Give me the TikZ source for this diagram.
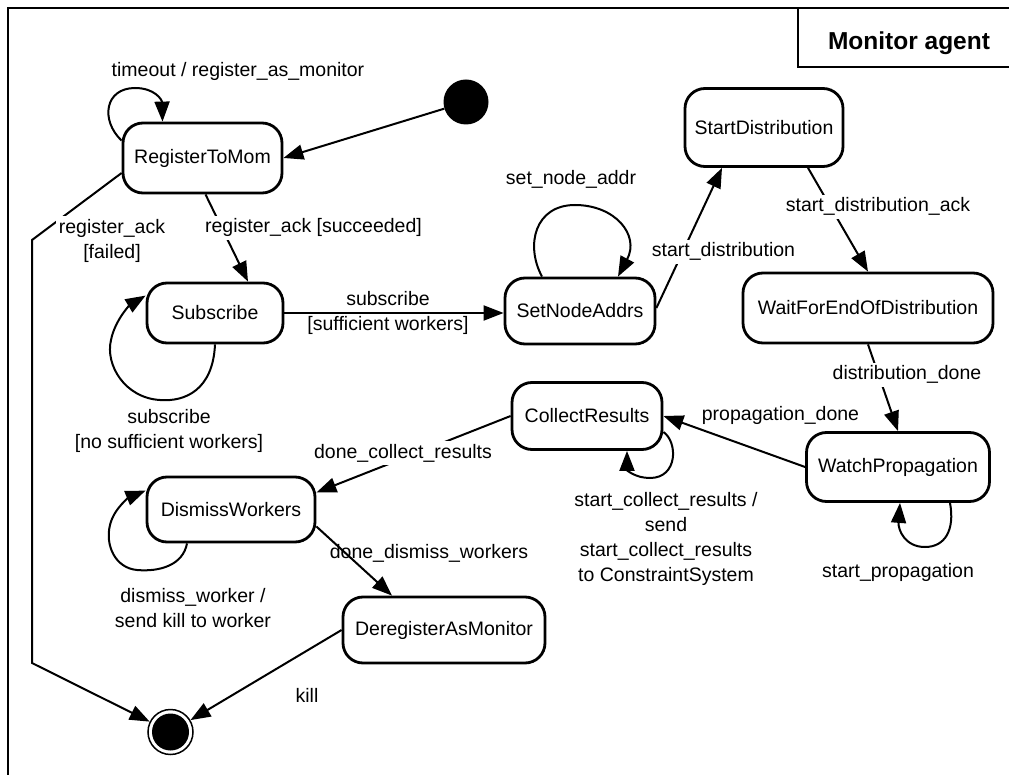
\documentclass[tikz,border=0pt]{standalone}
\usepackage{fontspec}
\setmainfont{Liberation Sans}
\usetikzlibrary{arrows.meta,calc}
\begin{document}
\begin{tikzpicture}[x=1pt,y=-1pt,
  every node/.style={font=\fontsize{19.5}{25}\selectfont},
  stbox/.style={draw, line width=2.8pt, rounded corners=20pt, inner sep=0pt, align=center},
  trans/.style={line width=2pt, -{Triangle[length=20pt,width=15pt]}},
  lbl/.style={inner sep=0pt, align=center},
  gap/.style={fill=white, inner sep=3pt},
]
\useasboundingbox (0,0) rectangle (1009,775);

% frame and title tab
\draw[line width=2.5pt] (1009,8) -- (8,8) -- (8,775);
\draw[line width=2pt] (798,8) -- (798,67) -- (1009,67);
\node[anchor=base, font=\bfseries\fontsize{24.5}{28}\selectfont] (title) at (909,50) {Monitor agent};

% states
\node[stbox, minimum width=159pt, minimum height=70pt] (reg) at (202.5,158) {RegisterToMom};
\node[circle, fill, minimum size=45pt, inner sep=0pt] (init) at (466,102) {};
\node[stbox, minimum width=136pt, minimum height=60pt] (sub) at (215,313) {Subscribe};
\node[stbox, minimum width=150pt, minimum height=66pt] (setn) at (580,311) {SetNodeAddrs};
\node[stbox, minimum width=158pt, minimum height=78pt] (sdist) at (764,127.5) {StartDistribution};
\node[stbox, minimum width=250pt, minimum height=70pt] (wait) at (868,308) {WaitForEndOfDistribution};
\node[stbox, minimum width=150pt, minimum height=67pt] (coll) at (587,416) {CollectResults};
\node[stbox, minimum width=183pt, minimum height=69pt] (watch) at (898,467) {WatchPropagation};
\node[stbox, minimum width=168pt, minimum height=65pt] (dism) at (231,509.5) {DismissWorkers};
\node[stbox, minimum width=202pt, minimum height=66pt] (dereg) at (444,630) {DeregisterAsMonitor};
\node[circle, draw, line width=1.5pt, minimum size=45pt, inner sep=0pt,
      path picture={\fill (path picture bounding box.center) circle (18.5pt);}] (final) at (170.5,732) {};

% bend points of the failure path
\coordinate (bendA) at (32,240);
\coordinate (bendB) at (32,663);

% transitions
\draw[trans] (init) -- (reg.east);
\draw[trans] ([yshift=-19pt]reg.north west) .. controls (100,120) and (105,88) .. (135,88)
   .. controls (155,88) and (162,100) .. ([xshift=-40pt]reg.north);
\draw[trans] ([xshift=3pt]reg.south) -- ([xshift=33pt]sub.north);
\draw[trans] ([yshift=-15pt]reg.west) -- (bendA) -- (bendB) -- (final);
\draw[trans] (sub.south) .. controls (213,390) and (185,402) .. (160,400)
   .. controls (125,398) and (105,365) .. (111,340)
   .. controls (115,320) and (130,305) .. ([yshift=-14pt]sub.north west);
\draw[trans] (sub.east) -- (sub.east -| setn.west);
\draw[trans] ([xshift=-38pt]setn.north) .. controls (525,245) and (535,205) .. (575,205)
   .. controls (615,205) and (640,235) .. ([xshift=38pt]setn.north);
\draw[trans] ([yshift=3pt]setn.east) -- ([xshift=-42pt]sdist.south);
\draw[trans] ([xshift=44pt]sdist.south) -- (wait.north);
\draw[trans] (wait.south) -- (watch.north);
\draw[trans] (watch.west) -- (coll.east);
\draw[trans] ([yshift=-16pt]coll.east) .. controls (678,442) and (678,478) .. (650,478)
   .. controls (635,478) and (627,470) .. ([xshift=40pt]coll.south);
\draw[trans] (coll.west) -- ([yshift=17pt]dism.east);
\draw[trans] ([xshift=-44pt]dism.south) .. controls (183,565) and (160,572) .. (137,570)
   .. controls (115,568) and (105,545) .. (110,525)
   .. controls (114,508) and (130,497) .. ([yshift=-15pt]dism.north west);
\draw[trans] ([yshift=-17pt]dism.east) -- ([xshift=-52pt]dereg.north);
\draw[trans] (dereg.west) -- (final);
\draw[trans] ([xshift=52pt]watch.south) .. controls (955,530) and (945,547) .. (925,547)
   .. controls (905,547) and (898,530) .. ([xshift=2pt]watch.south);

% transition labels
\node[lbl, anchor=base] (l1) at (238,77) {timeout / register\_as\_monitor};
\node[lbl, gap, anchor=north] (l2) at (112,215.7) {register\_ack\\{[failed]}};
\node[lbl, gap, anchor=base] (l3) at (313.5,233) {register\_ack [succeeded]};
\node[lbl, anchor=base] (l4) at (571,185) {set\_node\_addr};
\node[lbl, gap, anchor=base] (l5) at (723.5,257) {start\_distribution};
\node[lbl, gap, anchor=base] (l6) at (878,212) {start\_distribution\_ack};
\node[lbl, anchor=north] (l7) at (388,290.7) {subscribe\\{[sufficient workers]}};
\node[lbl, anchor=north] (l8) at (169,408.7) {subscribe\\{[no sufficient workers]}};
\node[lbl, gap, anchor=base] (l9) at (907,380) {distribution\_done};
\node[lbl, anchor=base] (l10) at (780.5,420) {propagation\_done};
\node[lbl, gap, anchor=base] (l11) at (403,458) {done\_collect\_results};
\node[lbl, anchor=north] (l12) at (666,491.7) {start\_collect\_results /\\send\\start\_collect\_results\\to ConstraintSystem};
\node[lbl, anchor=base] (l13) at (898,577) {start\_propagation};
\node[lbl, anchor=base] (l14) at (429,558) {done\_dismiss\_workers};
\node[lbl, anchor=north] (l15) at (193,587.7) {dismiss\_worker /\\send kill to worker};
\node[lbl, anchor=base] (l16) at (307,702) {kill};
\end{tikzpicture}
\end{document}
